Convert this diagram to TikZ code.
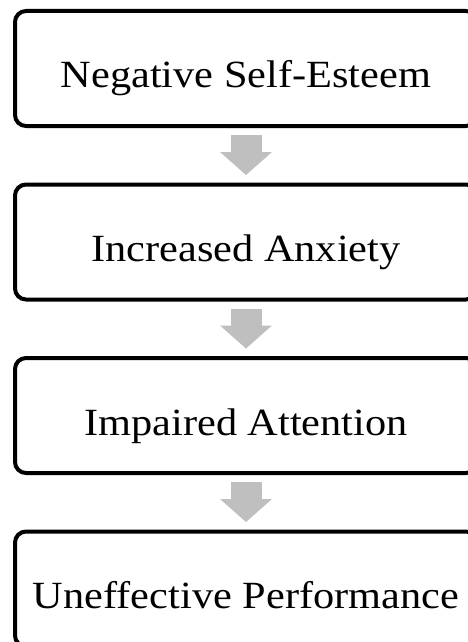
\documentclass[tikz,border=0pt]{standalone}
\usepackage{fontspec}
\setmainfont{Liberation Serif}[FakeStretch=1.1]
\usetikzlibrary{arrows.meta}
\definecolor{arrowgray}{RGB}{191,191,191}
\begin{document}
\begin{tikzpicture}[x=1pt,y=1pt,
  box/.style={draw=black, line width=4pt, rounded corners=11pt,
    minimum width=462pt, minimum height=115pt, inner sep=0pt,
    text height=45pt, text depth=6pt,
    font=\fontsize{38.5}{40}\selectfont},
  flow/.style={draw=arrowgray, line width=31pt,
    -{Triangle[width=52pt,length=23pt,line width=0pt]}}]
\useasboundingbox (0,0) rectangle (468,-642);
\node[box] (b1) at (246,-68.5) {Negative Self-Esteem};
\node[box] (b2) at (246,-242)  {Increased Anxiety};
\node[box] (b3) at (246,-415.5) {Impaired Attention};
\node[box] (b4) at (246,-589)  {Uneffective Performance};
\draw[flow] ([yshift=-7pt]b1.south) -- ([yshift=7.5pt]b2.north);
\draw[flow] ([yshift=-7pt]b2.south) -- ([yshift=7.5pt]b3.north);
\draw[flow] ([yshift=-7pt]b3.south) -- ([yshift=7.5pt]b4.north);
\end{tikzpicture}
\end{document}
